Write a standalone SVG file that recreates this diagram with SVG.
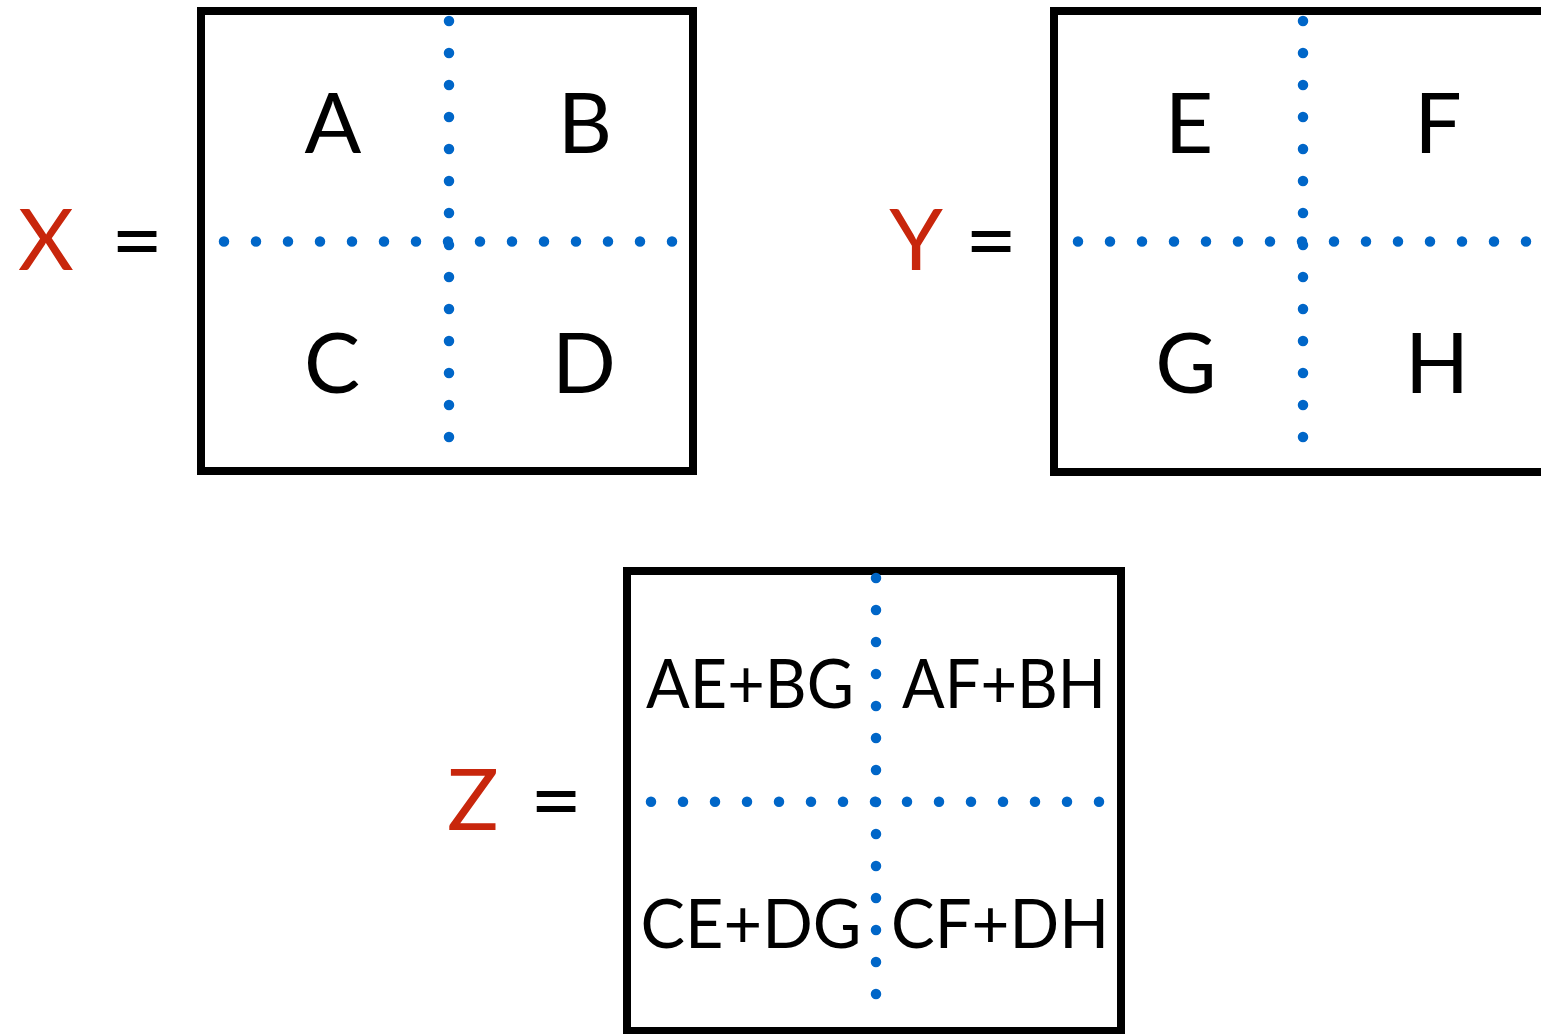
<svg xmlns="http://www.w3.org/2000/svg" width="1541" height="1034" viewBox="0 0 1541 1034">
<style>
.box{fill:none;stroke:#000;stroke-width:8}
.dots{stroke:#0066c8;stroke-width:10.5;stroke-linecap:round;stroke-dasharray:0 32;fill:none}
.big{font-family:Lato,"Liberation Sans",sans-serif;font-size:84px;fill:#000;text-anchor:middle}
.mid{font-family:Lato,"Liberation Sans",sans-serif;font-size:68px;fill:#000;text-anchor:middle}
.var{font-family:Lato,"Liberation Sans",sans-serif;font-size:86px;fill:#c8260c;text-anchor:middle}
.eq{font-family:Lato,"Liberation Sans",sans-serif;font-size:90px;fill:#000;text-anchor:middle}
</style>
<rect width="1541" height="1034" fill="#fff"/>
<g id="matrixX">
<text class="var" x="46" y="270">X</text>
<text class="eq" x="137" y="272">=</text>
<rect class="box" x="201" y="11" width="492" height="460"/>
<path class="dots" d="M449 21V438M224 241.5H673"/>
<text class="big" x="333" y="153">A</text>
<text class="big" x="585" y="153">B</text>
<text class="big" x="332" y="393">C</text>
<text class="big" x="584" y="393">D</text>
</g>
<g id="matrixY">
<text class="var" x="916" y="270">Y</text>
<text class="eq" x="991" y="272">=</text>
<rect class="box" x="1054" y="11" width="492" height="461"/>
<path class="dots" d="M1303 21V438M1078 241.5H1527"/>
<text class="big" x="1189" y="153">E</text>
<text class="big" x="1438" y="153">F</text>
<text class="big" x="1186" y="393">G</text>
<text class="big" x="1437" y="393">H</text>
</g>
<g id="matrixZ">
<text class="var" x="473" y="830">Z</text>
<text class="eq" x="556" y="832">=</text>
<rect class="box" x="627" y="571" width="494" height="460"/>
<path class="dots" d="M876 578V995M651 801.7H1100"/>
<text class="mid" x="750" y="708" textLength="208" lengthAdjust="spacingAndGlyphs">AE+BG</text>
<text class="mid" x="1004" y="708" textLength="204" lengthAdjust="spacingAndGlyphs">AF+BH</text>
<text class="mid" x="751" y="948" textLength="221" lengthAdjust="spacingAndGlyphs">CE+DG</text>
<text class="mid" x="1000" y="948" textLength="218" lengthAdjust="spacingAndGlyphs">CF+DH</text>
</g>
<g id="connectors"/>
</svg>
